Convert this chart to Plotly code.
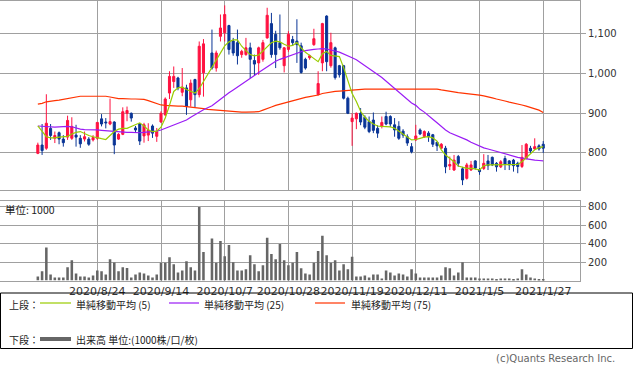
import pandas as pd
import plotly.graph_objects as go

# ---------------- data ----------------
holidays = ["2020-08-10", "2020-09-21", "2020-09-22", "2020-11-03", "2020-11-23",
            "2020-12-31", "2021-01-01", "2021-01-11"]
dates = [d for d in pd.bdate_range("2020-08-03", "2021-01-27")
         if d.strftime("%Y-%m-%d") not in holidays]
date_labels = [f"{d.year}/{d.month}/{d.day}" for d in dates]

tick_labels = ["2020/8/24", "2020/9/14", "2020/10/7", "2020/10/28",
               "2020/11/19", "2020/12/11", "2021/1/5", "2021/1/27"]

N = None
opens = [799, 820, 812, 862, 837, 851, 835, 840, 837, 845,
         837, 835, 835, 833, 837, 886, 878, 873, 878, 835,
         847, 900, 900, 863, 873, 843, 845, 868, 842, 878,
         896, 951, 980, 989, 953, 964, 934, 985, 947, 1002,
         N, 1052, 1014, 1094, 1103, 1121, 1082, 1078, 1048, 1048,
         1065, 1033, 1027, 1036, 1090, 1126, 1099, 1078, 1020, 1061,
         1086, 1082, 1070, 1036, 1040, 1073, 947, 1027, 1145, 1020,
         1065, 1020, 1020, 938, 879, 886, 900, 890, 879, 883,
         862, 867, 892, 892, 871, 867, 855, 841, 816, 833,
         858, 841, 850, 846, 827, 812, 812, 767, 757, 791,
         760, 736, 757, 780, 758, 761, 780, 789, 774, 765,
         786, 780, 782, 774, 766, 786, 812, 810, 818, 822]
highs = [826, 873, 948, 873, 854, 854, 845, 894, 890, 871,
         845, 854, 840, 845, 878, 898, 888, 937, 880, 850,
         915, 917, 902, 868, 875, 876, 875, 872, 863, 905,
         940, 1006, 1018, 992, 1014, 972, 985, 987, 1081, 1087,
         N, 1111, 1058, 1149, 1172, 1123, 1090, 1111, 1060, 1090,
         1078, 1048, 1068, 1085, 1166, 1153, 1108, 1149, 1067, 1107,
         1095, 1137, 1078, 1040, 1048, 1113, 1006, 1128, 1147, 1103,
         1068, 1022, 1022, 942, 900, 902, 913, 895, 892, 902,
         870, 892, 904, 895, 888, 880, 860, 847, 825, 871,
         862, 857, 855, 848, 828, 825, 818, 791, 795, 795,
         765, 775, 780, 782, 762, 797, 795, 791, 777, 782,
         793, 782, 785, 778, 820, 825, 818, 837, 822, 830]
lows = [797, 795, 808, 833, 825, 822, 816, 833, 833, 816,
        813, 829, 818, 829, 833, 867, 862, 870, 797, 833,
        845, 880, 879, 853, 820, 826, 830, 838, 828, 876,
        893, 936, 964, 958, 943, 896, 917, 915, 940, 942,
        N, 1010, 1005, 1081, 1081, 1048, 1045, 1023, 1040, 1045,
        989, 994, 997, 1030, 1088, 1040, 1014, 1060, 1003, 1055,
        1070, 1027, 1000, 1010, 1035, 1070, 945, 1006, 1006, 1015,
        985, 990, 935, 898, 818, 860, 870, 860, 850, 850,
        838, 862, 870, 865, 841, 833, 838, 818, 799, 830,
        845, 838, 828, 815, 805, 810, 749, 757, 755, 765,
        719, 733, 755, 758, 745, 757, 757, 767, 753, 762,
        757, 757, 753, 749, 762, 784, 800, 808, 806, 800]
closes = [820, 806, 875, 844, 844, 835, 826, 882, 867, 840,
          823, 841, 822, 839, 877, 873, 876, 879, 820, 847,
          904, 907, 888, 858, 830, 871, 858, 850, 854, 900,
          936, 993, 993, 964, 966, 917, 976, 947, 1069, 1075,
          N, 1014, 1052, 1115, 1149, 1061, 1052, 1045, 1056, 1065,
          1036, 1024, 1065, 1078, 1147, 1048, 1048, 1065, 1065, 1099,
          1078, 1073, 1003, 1014, 1045, 1088, 975, 1126, 1030, 1078,
          990, 997, 938, 900, 888, 900, 878, 865, 854, 857,
          850, 877, 873, 873, 858, 837, 845, 825, 803, 843,
          848, 854, 841, 822, 818, 822, 765, 771, 782, 774,
          732, 770, 770, 762, 753, 774, 768, 770, 765, 778,
          771, 770, 768, 766, 789, 822, 805, 816, 810, 812]

ma5 = [868, 855, 841, 838, 838, 840, 841, 842, 848, 852,
       854, 848, 844, 841, 838, 836, 834, 845, 854, 860,
       862, 862, 866, 872, 876, 868, 858, 854, 855, 865,
       888, 920, 955, 964, 966, 960, 955, 951, 962, 980,
       1000, 1015, 1035, 1052, 1070, 1080, 1085, 1085, 1069, 1058,
       1048, 1045, 1047, 1057, 1068, 1078, 1082, 1080, 1074, 1069,
       1071, 1078, 1065, 1054, 1046, 1038, 1030, 1050, 1056, 1046,
       1045, 1043, 1015, 985, 950, 930, 905, 890, 880, 873,
       868, 867, 867, 866, 862, 854, 847, 840, 833, 834,
       837, 840, 841, 838, 830, 808, 795, 787, 778, 767,
       763, 761, 761, 760, 757, 768, 770, 770, 770, 770,
       770, 770, 770, 771, 778, 788, 800, 808, 813, 816]
ma25 = [868, 867, 866, 865, 865, 866, 867, 867, 866, 863,
        860, 859, 859, 858, 858, 857, 856, 855, 854, 854,
        853, 852, 852, 851, 851, 852, 853, 854, 855, 858,
        862, 866, 870, 874, 878, 883, 890, 897, 904, 909,
        914, 919, 927, 936, 945, 952, 959, 966, 972, 979,
        988, 995, 1003, 1010, 1018, 1025, 1031, 1036, 1040, 1045,
        1049, 1052, 1055, 1058, 1060, 1061, 1062, 1063, 1062, 1060,
        1057, 1054, 1050, 1045, 1040, 1035, 1028, 1021, 1014, 1006,
        998, 990, 981, 972, 962, 952, 943, 935, 926, 920,
        910, 903, 895, 885, 876, 866, 858, 851, 847, 843,
        839, 833, 827, 822, 817, 813, 810, 807, 803, 800,
        797, 795, 792, 789, 787, 785, 783, 782, 781, 780]
ma75 = [923, 925, 929, 931, 932, 933, 935, 937, 939, 941,
        943, 943, 943, 943, 943, 943, 943, 941, 939, 937,
        937, 936, 936, 936, 936, 935, 932, 928, 924, 921,
        920, 919, 919, 918, 918, 917, 916, 915, 913, 912,
        910, 909, 908, 907, 906, 905, 904, 903, 903, 903,
        903, 903, 904, 908, 913, 916, 920, 923, 926, 929,
        932, 935, 938, 940, 942, 944, 946, 950, 952, 954,
        955, 956, 957, 958, 959, 960, 961, 961, 961, 961,
        961, 961, 961, 961, 961, 961, 961, 961, 961, 961,
        961, 961, 961, 961, 961, 959, 957, 955, 954, 952,
        951, 950, 949, 948, 946, 944, 942, 939, 936, 934,
        931, 928, 926, 923, 921, 918, 915, 912, 908, 902]

volume = [44, 100, 358, 66, 33, 33, 33, 144, 221, 77,
          44, 44, 33, 55, 110, 100, 66, 232, 195, 100,
          144, 136, 33, 66, 88, 77, 55, 33, 66, 192,
          192, 254, 177, 88, 110, 210, 144, 110, 800, 310,
          N, 457, 192, 431, 265, 387, 199, 110, 110, 122,
          276, 177, 100, 166, 465, 288, 232, 398, 221, 166,
          192, 310, 133, 77, 66, 192, 321, 487, 276, 192,
          221, 110, 177, 122, 258, 44, 44, 55, 33, 66,
          66, 22, 110, 88, 55, 77, 66, 44, 122, 77,
          33, 33, 33, 33, 33, 55, 144, 133, 55, 88,
          199, 33, 33, 33, 22, 22, 22, 22, 11, 22,
          22, 22, 11, 22, 122, 66, 33, 22, 11, 11]

# ---------------- figure ----------------
W, H = 633, 374
def px(x):
    return x / W
def py(y):
    return 1 - y / H

idx = list(range(len(dates)))
tick_idx = [date_labels.index(t) for t in tick_labels]

UP, DOWN = "#ff1240", "#0a3596"
GRID = "#a0a0a0"
FONT = "DejaVu Sans"
JP = "Noto Sans CJK JP"

fig = go.Figure()
fig.add_trace(go.Candlestick(
    x=idx, open=opens, high=highs, low=lows, close=closes,
    increasing=dict(line=dict(color=UP, width=1), fillcolor=UP),
    decreasing=dict(line=dict(color=DOWN, width=1), fillcolor=DOWN),
    whiskerwidth=0, xaxis="x", yaxis="y", hoverinfo="skip"))
fig.add_trace(go.Scatter(x=idx, y=ma75, mode="lines",
                         line=dict(color="#ff3300", width=1.2), xaxis="x", yaxis="y"))
fig.add_trace(go.Scatter(x=idx, y=ma25, mode="lines",
                         line=dict(color="#9a1cf5", width=1.2), xaxis="x", yaxis="y"))
fig.add_trace(go.Scatter(x=idx, y=ma5, mode="lines",
                         line=dict(color="#99cc00", width=1.2), xaxis="x", yaxis="y"))
fig.add_trace(go.Bar(x=idx, y=volume, width=0.6, marker=dict(color="#666666", line=dict(width=0)),
                     xaxis="x2", yaxis="y2"))

xr = [-8.91, 127.66]
xdom = [0, 580 / W]
common_x = dict(range=xr, domain=xdom, tickvals=tick_idx, showgrid=True, gridcolor=GRID,
                gridwidth=1, showline=True, linecolor=GRID, mirror=True, zeroline=False,
                ticks="", automargin=False, tickangle=0)
fig.update_layout(
    width=W, height=H, margin=dict(l=0, r=0, t=0, b=0, autoexpand=False),
    paper_bgcolor="white", plot_bgcolor="white", showlegend=False,
    boxgap=0.3,
    xaxis=dict(**common_x, anchor="y", showticklabels=False,
               rangeslider=dict(visible=False)),
    xaxis2=dict(**common_x, anchor="y2", matches="x", ticktext=tick_labels,
                tickfont=dict(family=FONT, size=11, color="#333")),
    yaxis=dict(domain=[py(190), py(1)], range=[706.7, 1183], side="right",
               tickvals=[800, 900, 1000, 1100], ticktext=["800", "900", "1,000", "1,100"],
               ticks="outside", ticklen=5, tickcolor=GRID, showgrid=True, gridcolor=GRID,
               showline=True, linecolor=GRID, mirror=True, zeroline=False, automargin=False,
               tickfont=dict(family=FONT, size=10, color="#333"), anchor="x"),
    yaxis2=dict(domain=[py(280.5), py(201)], range=[0, 865], side="right",
                tickvals=[200, 400, 600, 800], ticks="outside", ticklen=5, tickcolor=GRID,
                showgrid=True, gridcolor=GRID, showline=True, linecolor=GRID, mirror=True,
                zeroline=False, automargin=False,
                tickfont=dict(family=FONT, size=10, color="#333"), anchor="x2"),
)

shapes = [
    dict(type="rect", xref="paper", yref="paper", x0=px(0.5), x1=px(632.5),
         y0=py(293), y1=py(348.5), line=dict(color="#000", width=1)),
    dict(type="line", xref="paper", yref="paper", x0=px(40), x1=px(71), y0=py(303), y1=py(303),
         line=dict(color="#99cc00", width=1.2)),
    dict(type="line", xref="paper", yref="paper", x0=px(169), x1=px(199), y0=py(303), y1=py(303),
         line=dict(color="#9a1cf5", width=1.2)),
    dict(type="line", xref="paper", yref="paper", x0=px(315), x1=px(345), y0=py(303), y1=py(303),
         line=dict(color="#ff3300", width=1.2)),
    dict(type="line", xref="paper", yref="paper", x0=px(40), x1=px(71), y0=py(339), y1=py(339),
         line=dict(color="#666666", width=4)),
]
fig.update_layout(shapes=shapes)

def ann(text, x, y, anchor="left", size=10, color="#222", family=JP):
    return dict(text=text, xref="paper", yref="paper", x=px(x), y=py(y), xanchor=anchor,
                yanchor="middle", showarrow=False, font=dict(family=family, size=size, color=color))

fig.update_layout(annotations=[
    ann("上段：", 7, 304),
    ann("単純移動平均 (5)", 74, 304),
    ann("単純移動平均 (25)", 202, 304),
    ann("単純移動平均 (75)", 349, 304),
    ann("下段：", 7, 339),
    ann("出来高 単位:(1000株/口/枚)", 74, 339),
    ann("単位: 1000", 3, 209, size=10.5),
    ann("(c)Quants Research Inc.", 617, 358, anchor="right", color="#666", family=FONT, size=10),
])

fig.write_html("out.html", config={"displayModeBar": False},
               post_script="document.body.style.margin='0';document.body.style.overflow='hidden';")
